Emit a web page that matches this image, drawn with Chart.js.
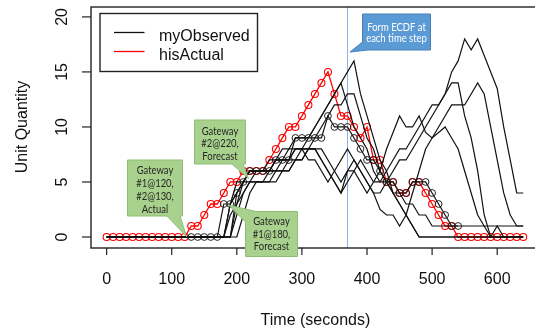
<!DOCTYPE html>
<html><head><meta charset="utf-8">
<script src="https://cdn.jsdelivr.net/npm/chart.js@4.4.0/dist/chart.umd.min.js"></script>
<style>
html,body{margin:0;padding:0;background:#fff;overflow:hidden;width:535px;height:328px}
#wrap{position:absolute;left:0;top:0;width:545px;height:328px}
</style></head>
<body><div id="wrap"><canvas id="c" width="545" height="328"></canvas></div>
<script>
const times = [0,10,20,30,40,50,60,70,80,90,100,110,120,130,140,150,160,170,180,190,200,210,220,230,240,250,260,270,280,290,300,310,320,330,340,350,360,370,380,390,400,410,420,430,440,450,460,470,480,490,500,510,520,530,540,550,560,570,580,590,600,610,620,630,640];
const xTicks = [0,100,200,300,400,500,600];
const yTicks = [0,5,10,15,20];
const ecdfTime = 370;

const hisActual = [0,0,0,0,0,0,0,0,0,0,0,0,0,
 1,1,2,3,3,4,5,5,6,6, 6,6,7,8,9,10,10,11,12,13, 14,15,13,11,11,10,9,10,7,7, 5,5,4,4,5,5,4,3,2,1, 1,
 0,0,0,0,0,0,0,0,0,0,0];

const obsMarked = [null,null,null,null,null,null,null,null,null,null,null,null,null,0,0,0,0,0,
 3,3,4,5,6,6,6,6,7,7, 7,9,9,9,9,9,11,10,10,10, 9,8,7,7,6,5,5,4,4,5, 5,5,4,3,2,1,1,
 null,null,null,null,null,null,null,null,null,null];
const obs1 = [0,0,0,0,0,0,0,0,0,0,0,0,0,0,0,0,0,0,0,
 3,4,5,5,6,6,6,6,7,7, 8,8,9,10,11,12,13,14,15,16, 13,11,9,7,6,4,3,2,1,0,
 0,0,0,0,0,0,0,0,0,0,0,0,0,0,0,0];
const obs2 = [0,0,0,0,0,0,0,0,0,0,0,0,0,0,0,0,0,0,0,0,
 4,5,6,6,6,6,7,8,8,9, 9,9,10,11,12,13,14,12,10,9, 8,6,5,5,4,4,3,3,2,2,
 1,1,1,1,1,1,1,1,1,1,1,1,1,1,1];
const obs3 = [0,0,0,0,0,0,0,0,0,0,0,0,0,0,0,0,0,0,0,
 2,3,5,6,6,6,7,7,7,8, 8,8,8,9,10,11,12,12,13,13, 11,9,8,6,5,4,3,2,1,0,
 0,0,0,0,0,0,0,0,0,0,0,0,0,0,0,0];
const obs4 = [0,0,0,0,0,0,0,0,0,0,0,0,0,0,0,0,0,0,0,
 3,5,5,6,6,6,6,7,7,7, 8,8,7,7,6,5,6,7,8,7, 6,5,4,4,5,6,7,7,8,9,
 10,11,12,13,15,16,18,17,18,16.5, 15,13.5,10,7,4,4];
const obs5 = [0,0,0,0,0,0,0,0,0,0,0,0,0,0,0,0,0,0,0,0,
 3,4,5,5,5,6,6,6,7,7, 8,8,8,7,6,5,4,5,6,7, 6,5,5,6,7,8,8,9,10,11,
 12,12,13,14,14,11,9,6,2,0, 1,0,0,0,0];
const obs6 = [0,0,0,0,0,0,0,0,0,0,0,0,0,0,0,0,0,0,0,0,
 2,4,5,5,5,5,6,6,6,7, 7,8,8,8,7,6,5,6,6,5, 4,5,6,8,9.5,11,10,10,11,9.5,
 9,9.5,10,9,8,6,4,2,1,0, 0,0,0,0,0];
const obs7 = [0,0,0,0,0,0,0,0,0,0,0,0,0,0,0,0,0,0,0,0,0,
 2,4,5,5,5,5,6,6,7,7, 8,8,7,6,5,4,6,7,6,5, 4,2.5,2,2,1,2,4,6,8,9,
 10,11,12,12,12,13,14,13,10,7, 4,2,1,1];

const blackLines = [obs1,obs2,obs3,obs4,obs5,obs6,obs7];
const pts = arr => times.map((t,i)=>({x:t,y:arr[i]}));

const datasets = [];
blackLines.forEach((a,k)=>datasets.push({label:'myObserved'+k,data:pts(a),borderColor:'#111',borderWidth:1.2,pointRadius:0,tension:0,spanGaps:false}));
datasets.push({label:'myObserved',data:pts(obsMarked),borderColor:'#111',borderWidth:1.2,pointRadius:3.4,pointStyle:'circle',pointBorderColor:'#222',pointBackgroundColor:'rgba(0,0,0,0)',pointBorderWidth:1,tension:0,spanGaps:false});
datasets.push({label:'hisActual',data:pts(hisActual),borderColor:'#ff0000',borderWidth:1.3,pointRadius:3.5,pointStyle:'circle',pointBorderColor:'#ff0000',pointBackgroundColor:'rgba(0,0,0,0)',pointBorderWidth:1.1,tension:0});

const AX = '"Liberation Sans", Arial, sans-serif';
const NOTE = 'Lato, "Open Sans", sans-serif';

function poly(ctx, p, fill, stroke){
  ctx.beginPath(); ctx.moveTo(p[0][0],p[0][1]);
  for(let i=1;i<p.length;i++) ctx.lineTo(p[i][0],p[i][1]);
  ctx.closePath(); ctx.fillStyle=fill; ctx.fill(); ctx.strokeStyle=stroke; ctx.lineWidth=1; ctx.stroke();
}
function lines(ctx, cx, ys, txt, color){
  ctx.fillStyle=color; ctx.textAlign='center'; ctx.textBaseline='middle'; ctx.font='11px '+NOTE;
  txt.forEach((t,i)=>{const w=ctx.measureText(t).width; ctx.fillText(t,cx,ys[i],w*0.86);});
}

const deco = {
  id:'deco',
  beforeDatasetsDraw(chart){
    const {ctx, chartArea:a, scales:{x}} = chart;
    ctx.save();
    const vx = Math.round(x.getPixelForValue(ecdfTime))+0.5;
    ctx.strokeStyle='#8fb3dd'; ctx.lineWidth=1;
    ctx.beginPath(); ctx.moveTo(vx,a.top); ctx.lineTo(vx,a.bottom); ctx.stroke();
    ctx.restore();
  },
  afterDraw(chart){
    const {ctx, chartArea:a, scales:{x,y}} = chart;
    ctx.save();
    ctx.strokeStyle='#222'; ctx.lineWidth=1.4;
    ctx.strokeRect(a.left, a.top, a.right-a.left, a.bottom-a.top);
    ctx.lineWidth=1.2; ctx.fillStyle='#111';
    ctx.font='16px '+AX; ctx.textAlign='center'; ctx.textBaseline='alphabetic';
    xTicks.forEach(v=>{const px=x.getPixelForValue(v);
      ctx.beginPath(); ctx.moveTo(px,a.bottom); ctx.lineTo(px,a.bottom+7); ctx.stroke();
      ctx.fillText(String(v),px,283.5);});
    yTicks.forEach(v=>{const py=y.getPixelForValue(v);
      ctx.beginPath(); ctx.moveTo(a.left,py); ctx.lineTo(a.left-9,py); ctx.stroke();
      ctx.save(); ctx.translate(66.5,py); ctx.rotate(-Math.PI/2); ctx.fillText(String(v),0,0); ctx.restore();});
    ctx.fillText('Time (seconds)', (a.left+a.right)/2, 324.5);
    ctx.save(); ctx.translate(26.5,127); ctx.rotate(-Math.PI/2); ctx.fillText('Unit Quantity',0,0); ctx.restore();
    ctx.fillStyle='#fff'; ctx.fillRect(100,13.5,157.5,58);
    ctx.strokeStyle='#222'; ctx.lineWidth=1.4; ctx.strokeRect(100,13.5,157.5,58);
    ctx.lineWidth=1.3;
    ctx.strokeStyle='#111'; ctx.beginPath(); ctx.moveTo(114,32.5); ctx.lineTo(144.5,32.5); ctx.stroke();
    ctx.strokeStyle='#ff0000'; ctx.beginPath(); ctx.moveTo(114,51.5); ctx.lineTo(144.5,51.5); ctx.stroke();
    ctx.fillStyle='#111'; ctx.textAlign='left';
    ctx.fillText('myObserved',159,40.5); ctx.fillText('hisActual',159,59.5);
    const G='#a9d18e', GB='#8fbd72';
    poly(ctx,[[127.5,160],[182.5,160],[182.5,216],[180,216],[186.5,236.5],[167,216],[127.5,216]],G,GB);
    lines(ctx,155,[170.5,183.5,196,209],['Gateway','#1@120,','#2@130,','Actual'],'#262626');
    poly(ctx,[[194.5,120],[245.5,120],[245.5,164],[243,164],[248.5,178.5],[232,164],[194.5,164]],G,GB);
    lines(ctx,220,[131,143.5,156.5],['Gateway','#2@220,','Forecast'],'#262626');
    poly(ctx,[[245.5,222],[228.5,205],[256,211.5],[297.5,211.5],[297.5,256.5],[245.5,256.5]],G,GB);
    lines(ctx,271.5,[221,234,246.5],['Gateway','#1@180,','Forecast'],'#262626');
    poly(ctx,[[362.5,14],[430.5,14],[430.5,50],[368,50],[350,52],[362.5,42]],'#5b9bd5','#4a7fb5');
    lines(ctx,396.5,[27,38.5],['Form ECDF at','each time step'],'#fff');
    ctx.restore();
  }
};

new Chart(document.getElementById('c'),{
  type:'line',
  data:{datasets},
  options:{
    responsive:false, animation:false, devicePixelRatio:1,
    layout:{padding:{left:91,top:7,right:2,bottom:80}},
    plugins:{legend:{display:false},tooltip:{enabled:false}},
    scales:{
      x:{type:'linear',display:false,min:-24,max:665.6},
      y:{type:'linear',display:false,min:-1,max:20.9}
    }
  },
  plugins:[deco]
});
</script></body></html>
